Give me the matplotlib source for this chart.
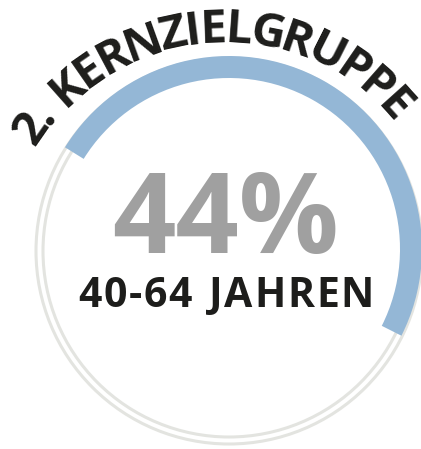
"""
Donut-style share badge: 2. Kernzielgruppe, 44 % aged 40-64.
Saves out.png (421x449 px).
"""

import numpy as np
import matplotlib
matplotlib.use("Agg")
import matplotlib.pyplot as plt
from matplotlib.patches import Wedge, Circle
from matplotlib.font_manager import FontProperties

# data
title = "2. KERNZIELGRUPPE"
share = 44
share_label = f"{share}%"
group_label = "40-64 JAHREN"
# arc as drawn in the original (degrees, counter-clockwise from 3 o'clock)
arc_start, arc_end = 148.2, -26.7

W, H = 421, 449
fig = plt.figure(figsize=(W / 100, H / 100), dpi=100)
ax = fig.add_axes([0, 0, 1, 1])
ax.set_xlim(0, W)
ax.set_ylim(0, H)
ax.set_aspect("equal")
ax.axis("off")

blue = "#94b7d6"
ring = "#e3e4e0"
dark = "#1d1d1b"
grey = "#a0a0a0"
renderer = fig.canvas.get_renderer()


def char_widths(s, fp):
    out = []
    for ch in s:
        w, _, _ = renderer.get_text_width_height_descent(
            "n" if ch == " " else ch, fp, ismath=False)
        out.append(w * 0.5 if ch == " " else w)
    return np.array(out)


# two thin grey rings
cx, cy = 229, H - 251
for r in (193, 186):
    ax.add_patch(Circle((cx, cy), r, fill=False, ec=ring, lw=2.2))

# blue share arc
ax.add_patch(Wedge((229, H - 249), 193, arc_end, arc_start, width=22,
                   fc=blue, ec="none"))

# big share number
ax.text(226, H - 253, share_label, ha="center", va="baseline",
        fontsize=80, fontweight="bold", family="Open Sans", color=grey)

# age group label, tracked out letter by letter
fp_lab = FontProperties(family="Open Sans", weight="bold", size=29.5)
wl = char_widths(group_label, fp_lab)
x_left, x_right = 78, 374
gap = (x_right - x_left - wl.sum()) / (len(wl) - 1)
x = x_left
for ch, w in zip(group_label, wl):
    ax.text(x + w / 2, H - 307, ch, ha="center", va="baseline",
            fontproperties=fp_lab, color=dark)
    x += w + gap

# curved title, letter by letter
fp = FontProperties(family="Open Sans", weight="bold", size=34)
widths = char_widths(title, fp)
centres = np.cumsum(widths) - widths / 2
a0, a1 = 145.3, 42.0
angles = a0 + (centres - centres[0]) / (centres[-1] - centres[0]) * (a1 - a0)
tcx, tcy, r_base = 222, H - 261, 219
for ch, a in zip(title, angles):
    t = np.deg2rad(a)
    ax.text(tcx + r_base * np.cos(t), tcy + r_base * np.sin(t), ch,
            rotation=a - 90, rotation_mode="anchor", ha="center",
            va="baseline", fontproperties=fp, color=dark)

fig.savefig("out.png", dpi=100)
